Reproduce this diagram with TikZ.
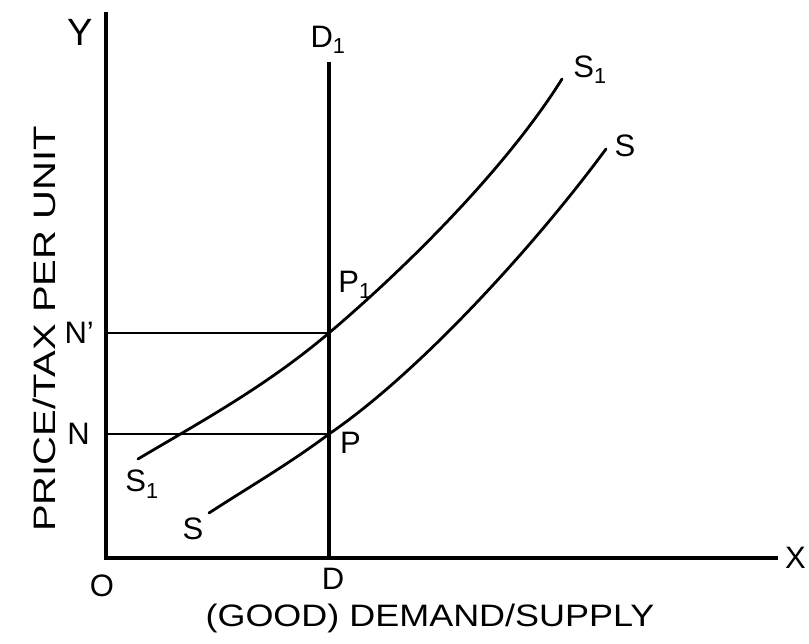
\documentclass[tikz,border=0pt]{standalone}
\usepackage{fontspec}
\setmainfont{Liberation Sans}
\usetikzlibrary{positioning}
\tikzset{
axisline/.style={line width=3.2pt,black},
curve/.style={line width=2.8pt,black,line cap=round},
guide/.style={line width=2.2pt,black},
ptlabel/.style={font=\fontsize{31}{34}\selectfont,inner sep=0pt},
axistitle/.style={font=\fontsize{31}{34}\selectfont,inner sep=0pt}
}
\begin{document}
\begin{tikzpicture}[x=1pt,y=-1pt]
\useasboundingbox (0,0) rectangle (809,644);
\coordinate (o) at (106,558);
\coordinate (ytop) at (106,12);
\coordinate (xend) at (778,558);
\coordinate (dtop) at (329,62);
\coordinate (dfoot) at (329,558);
\coordinate (p1) at (329,333);
\coordinate (p) at (329,434);
\coordinate (n1) at (106,333);
\coordinate (n) at (106,434);
\coordinate (s1start) at (138,459);
\coordinate (s1end) at (562,79);
\coordinate (sstart) at (209,513);
\coordinate (send) at (606,149);
\draw[axisline] (ytop) -- (o) -- (xend);
\draw[axisline] (dtop) -- (dfoot);
\draw[guide] (n1) -- (p1);
\draw[guide] (n) -- (p);
\draw[curve] (s1start) .. controls (202,421) and (265,387) .. (p1)
  .. controls (409,265) and (507,167) .. (s1end);
\draw[curve] (sstart) .. controls (249,487) and (289,464) .. (p)
  .. controls (420,372) and (536,244) .. (send);
\node[ptlabel,font=\fontsize{38}{40}\selectfont] (ylbl) at (80,32) {Y};
\node[ptlabel,right=7pt of xend] (xlbl) {X};
\node[ptlabel] (olbl) at (102,586) {O};
\node[ptlabel] (dlbl) at (333,579) {D};
\node[ptlabel] (d1lbl) at (328,40) {D\textsubscript{1}};
\node[ptlabel] (p1lbl) at (355,285) {P\textsubscript{1}};
\node[ptlabel,right=11pt of p,yshift=-9pt] (plbl) {P};
\node[ptlabel,left=12pt of n1] (n1lbl) {N’};
\node[ptlabel,left=16pt of n] (nlbl) {N};
\node[ptlabel] (s1lolbl) at (142,484) {S\textsubscript{1}};
\node[ptlabel] (slolbl) at (193,529) {S};
\node[ptlabel] (s1hilbl) at (590,70) {S\textsubscript{1}};
\node[ptlabel] (shilbl) at (625,146) {S};
\node[axistitle,rotate=90] (ytitle) at (44,329) {\scalebox{1.29}[1]{PRICE/TAX PER UNIT}};
\node[axistitle] (xtitle) at (430,618) {\scalebox{1.16}[1]{(GOOD) DEMAND/SUPPLY}};
\end{tikzpicture}
\end{document}
